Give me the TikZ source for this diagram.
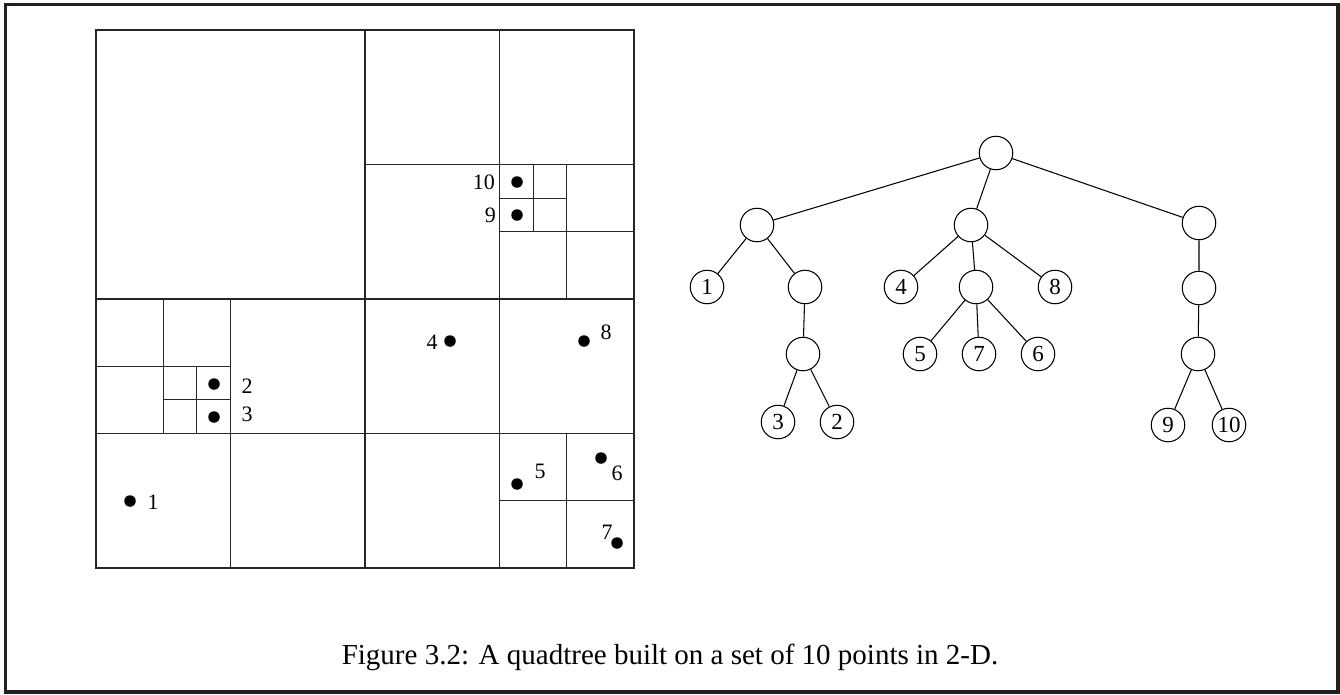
\documentclass[tikz,border=0pt]{standalone}
\usepackage{fontspec}
\setmainfont{Liberation Serif}
\definecolor{framecol}{HTML}{231F20}
\begin{document}
\begin{tikzpicture}[x=1pt,y=-1pt,
  qline/.style={line width=1.1pt,color=black!85},
  dot/.style={circle,fill=black,inner sep=0pt,minimum size=11.5pt},
  lab/.style={font=\fontsize{22}{22}\selectfont,inner sep=0pt},
  tn/.style={circle,draw,line width=1.05pt,minimum size=33.5pt,inner sep=0pt,font=\fontsize{23}{23}\selectfont},
  te/.style={line width=1.05pt}]
\useasboundingbox (0,0) rectangle (1340,694);
\draw[line width=3.5pt,color=framecol] (5.5,4.5) rectangle (1338.2,692.2);

% quadtree
\draw[qline] (96,30) rectangle (634,568);
\draw[qline] (365,30) -- (365,568) (96,299) -- (634,299);
% top-right quadrant
\draw[qline] (499.5,30) -- (499.5,299) (365,164.5) -- (634,164.5);
\draw[qline] (566.75,164.5) -- (566.75,299) (499.5,231.75) -- (634,231.75);
\draw[qline] (533.1,164.5) -- (533.1,231.75) (499.5,198.1) -- (566.75,198.1);
% bottom-left quadrant
\draw[qline] (230.5,299) -- (230.5,568) (96,433.5) -- (365,433.5);
\draw[qline] (163.25,299) -- (163.25,433.5) (96,366.25) -- (230.5,366.25);
\draw[qline] (196.9,366.25) -- (196.9,433.5) (163.25,399.9) -- (230.5,399.9);
% bottom-right quadrant
\draw[qline] (499.5,299) -- (499.5,568) (365,433.5) -- (634,433.5);
\draw[qline] (566.75,433.5) -- (566.75,568) (499.5,500.75) -- (634,500.75);

% points
\node[dot] (p1) at (130,501) {};
\node[lab] (l1) at (153,502) {1};
\node[dot] (p2) at (214,384) {};
\node[lab] (l2) at (247,386) {2};
\node[dot] (p3) at (214,417) {};
\node[lab] (l3) at (247,414) {3};
\node[dot] (p4) at (450,341) {};
\node[lab] (l4) at (432,342) {4};
\node[dot] (p8) at (584,341) {};
\node[lab] (l8) at (606,332) {8};
\node[dot] (p5) at (517,484) {};
\node[lab] (l5) at (540,471) {5};
\node[dot] (p6) at (601,458) {};
\node[lab] (l6) at (617,473) {6};
\node[dot] (p7) at (617,543) {};
\node[lab] (l7) at (607,532) {7};
\node[dot] (p10) at (517,182) {};
\node[lab,anchor=east] (l10) at (495,182) {10};
\node[dot] (p9) at (517,215) {};
\node[lab,anchor=east] (l9) at (496,215) {9};

% tree
\node[tn] (root) at (996,153) {};
\node[tn] (L) at (757,225) {};
\node[tn] (M) at (971,225) {};
\node[tn] (R) at (1199,223) {};
\node[tn] (n1) at (707,287) {1};
\node[tn] (Le) at (805,287) {};
\node[tn] (n4) at (901,287) {4};
\node[tn] (Me) at (976,287) {};
\node[tn] (n8) at (1055,287) {8};
\node[tn] (R2) at (1199,288) {};
\node[tn] (Le2) at (803,354) {};
\node[tn] (n5) at (920,354) {5};
\node[tn] (n7) at (979,354) {7};
\node[tn] (n6) at (1038,354) {6};
\node[tn] (R3) at (1198,354) {};
\node[tn] (n3) at (778,422) {3};
\node[tn] (n2) at (837,422) {2};
\node[tn] (n9) at (1168,425) {9};
\node[tn] (n10) at (1229,425) {10};

\draw[te] (root) -- (L) (root) -- (M) (root) -- (R);
\draw[te] (L) -- (n1) (L) -- (Le) (Le) -- (Le2) (Le2) -- (n3) (Le2) -- (n2);
\draw[te] (M) -- (n4) (M) -- (Me) (M) -- (n8);
\draw[te] (Me) -- (n5) (Me) -- (n7) (Me) -- (n6);
\draw[te] (R) -- (R2) (R2) -- (R3) (R3) -- (n9) (R3) -- (n10);

% caption
\node[anchor=base,inner sep=0pt,font=\fontsize{29}{29}\selectfont] (cap) at (670,664) {Figure 3.2: A quadtree built on a set of 10 points in 2-D.};
\end{tikzpicture}
\end{document}
